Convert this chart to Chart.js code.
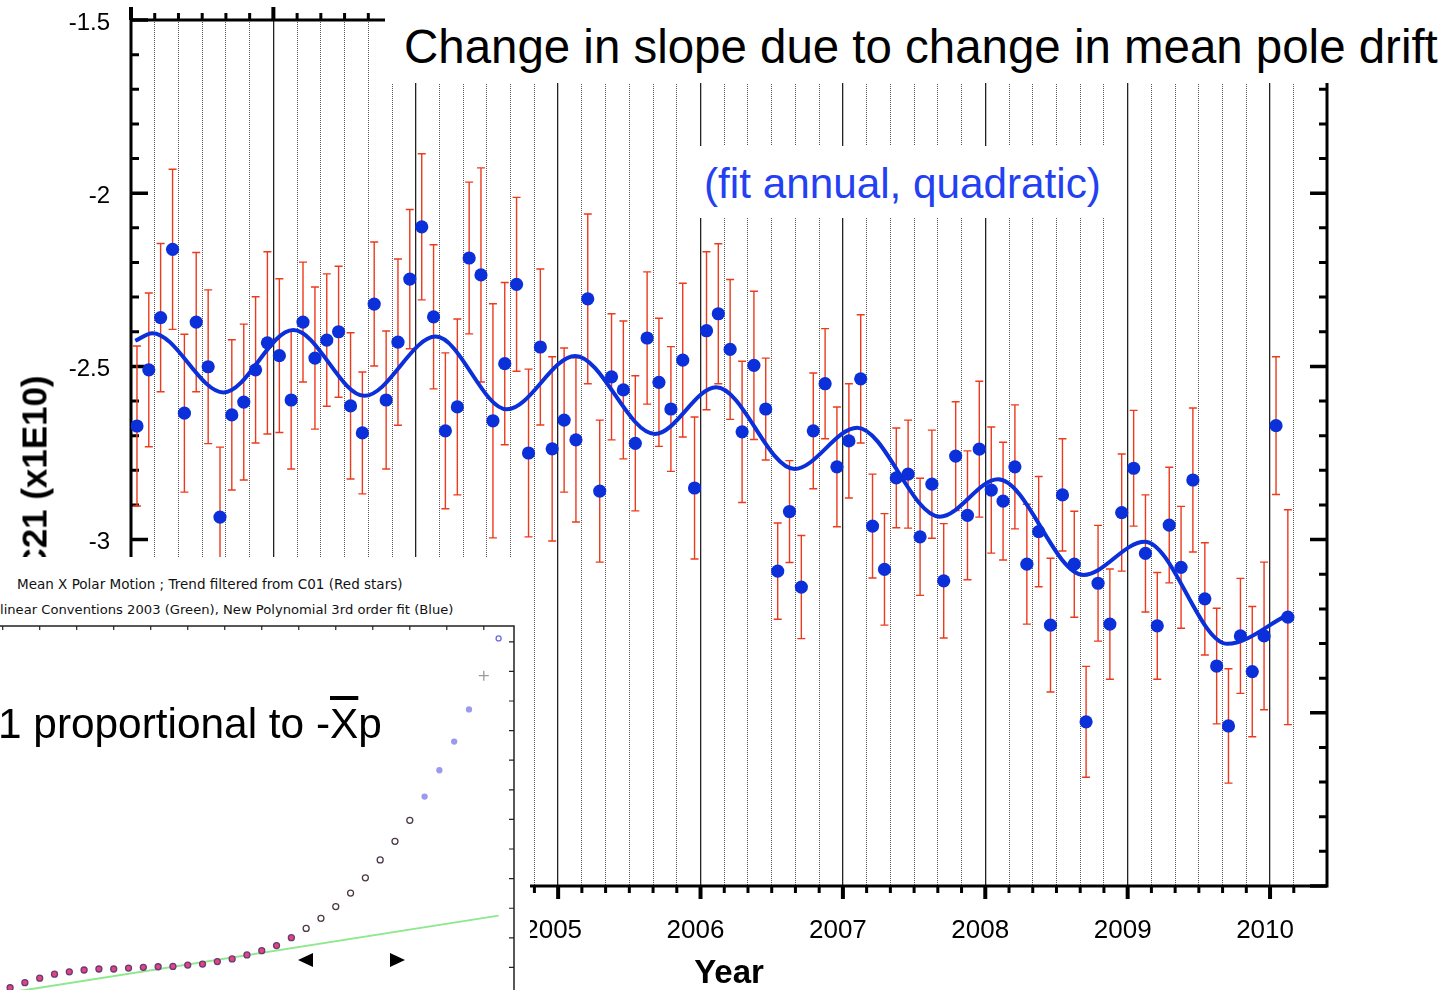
<!DOCTYPE html>
<html>
<head>
<meta charset="utf-8">
<script src="https://cdn.jsdelivr.net/npm/chart.js@4.4.1/dist/chart.umd.min.js"></script>
<style>
html,body{margin:0;padding:0;background:#fff;overflow:hidden;}
body{width:1450px;height:990px;position:relative;font-family:"Liberation Sans",Arial,Helvetica,sans-serif;}
#mainC{position:absolute;left:0;top:0;}
.wbox{position:absolute;background:#fff;}
.txt{position:absolute;white-space:nowrap;line-height:1;color:#000;left:0;top:0;}
.small{font-family:"DejaVu Sans",Verdana,sans-serif;color:#111;}
.ov{text-decoration:overline;text-decoration-thickness:4px;}
#inset{position:absolute;left:0;top:557px;width:530px;height:433px;background:#fff;overflow:hidden;}
#ic{position:absolute;left:-40px;top:60px;}
.tri{position:absolute;width:0;height:0;border-top:7.5px solid transparent;border-bottom:7.5px solid transparent;}
</style>
</head>
<body>
<canvas id="mainC" width="1450" height="990"></canvas>

<div class="wbox" style="left:385px;top:0;width:1065px;height:83px"></div>
<div id="title" class="txt">Change in slope due to change in mean pole drift</div>
<div class="wbox" style="left:688px;top:146px;width:424px;height:72px"></div>
<div id="fit" class="txt" style="color:#2340f2">(fit annual, quadratic)</div>
<div id="ylab" class="txt" style="font-weight:bold">C21 (x1E10)</div>

<div id="inset"><canvas id="ic" width="570" height="400"></canvas></div>
<div id="ins1" class="txt small">Mean X Polar Motion ; Trend filtered from C01 (Red stars)</div>
<div id="ins2" class="txt small">linear Conventions 2003 (Green), New Polynomial 3rd order fit (Blue)</div>
<div id="prop" class="txt">1 proportional to -<span class="ov">X</span>p</div>
<div class="tri" style="left:297.5px;top:952.5px;border-right:15px solid #000"></div>
<div class="tri" style="left:389.5px;top:952.5px;border-left:15px solid #000"></div>

<script>
// ---------------- main chart data ----------------
const years = [
 2002.042,2002.125,2002.208,2002.292,2002.375,2002.458,2002.542,2002.625,2002.708,2002.792,2002.875,2002.958,
 2003.042,2003.125,2003.208,2003.292,2003.375,2003.458,2003.542,2003.625,2003.708,2003.792,2003.875,2003.958,
 2004.042,2004.125,2004.208,2004.292,2004.375,2004.458,2004.542,2004.625,2004.708,2004.792,2004.875,2004.958,
 2005.042,2005.125,2005.208,2005.292,2005.375,2005.458,2005.542,2005.625,2005.708,2005.792,2005.875,2005.958,
 2006.042,2006.125,2006.208,2006.292,2006.375,2006.458,2006.542,2006.625,2006.708,2006.792,2006.875,2006.958,
 2007.042,2007.125,2007.208,2007.292,2007.375,2007.458,2007.542,2007.625,2007.708,2007.792,2007.875,2007.958,
 2008.042,2008.125,2008.208,2008.292,2008.375,2008.458,2008.542,2008.625,2008.708,2008.792,2008.875,2008.958,
 2009.042,2009.125,2009.208,2009.292,2009.375,2009.458,2009.542,2009.625,2009.708,2009.792,2009.875,2009.958,
 2010.042,2010.125
];
const c21 = [
 -2.672,-2.510,-2.359,-2.162,-2.635,-2.372,-2.501,-2.935,-2.640,-2.603,-2.510,-2.432,
 -2.469,-2.597,-2.372,-2.476,-2.424,-2.400,-2.614,-2.692,-2.320,-2.597,-2.430,-2.248,
 -2.097,-2.357,-2.686,-2.617,-2.187,-2.236,-2.657,-2.492,-2.263,-2.750,-2.444,-2.738,
 -2.655,-2.712,-2.305,-2.860,-2.530,-2.568,-2.722,-2.418,-2.546,-2.623,-2.482,-2.851,
 -2.397,-2.348,-2.451,-2.689,-2.497,-2.623,-3.091,-2.919,-3.137,-2.686,-2.550,-2.790,
 -2.715,-2.536,-2.961,-3.086,-2.822,-2.811,-2.992,-2.840,-3.119,-2.759,-2.930,-2.739,
 -2.857,-2.889,-2.790,-3.071,-2.977,-3.247,-2.871,-3.071,-3.526,-3.126,-3.244,-2.922,
 -2.794,-3.040,-3.249,-2.958,-3.080,-2.828,-3.171,-3.365,-3.538,-3.278,-3.381,-3.278,
 -2.671,-3.224
];
const c21Err = [
 0.231,0.222,0.214,0.231,0.228,0.201,0.222,0.202,0.217,0.225,0.211,0.263,
 0.222,0.199,0.173,0.205,0.191,0.189,0.211,0.176,0.179,0.199,0.240,0.201,
 0.211,0.208,0.225,0.254,0.219,0.309,0.338,0.234,0.251,0.242,0.225,0.266,
 0.208,0.237,0.245,0.205,0.182,0.199,0.195,0.191,0.185,0.180,0.222,0.205,
 0.228,0.202,0.202,0.204,0.214,0.147,0.139,0.147,0.149,0.167,0.159,0.173,
 0.165,0.185,0.150,0.161,0.144,0.156,0.169,0.156,0.165,0.157,0.186,0.196,
 0.182,0.170,0.179,0.173,0.159,0.193,0.162,0.153,0.160,0.167,0.159,0.169,
 0.167,0.169,0.154,0.167,0.176,0.208,0.162,0.167,0.165,0.166,0.188,0.213,
 0.199,0.310
];
// fitted curve (annual + quadratic), read at its turning points
const fitYears = [2002.03,2002.15,2002.65,2003.14,2003.64,2004.14,2004.64,2005.12,2005.68,
                  2006.11,2006.66,2007.10,2007.68,2008.09,2008.69,2009.12,2009.70,2010.12];
const fitC21   = [-2.426,-2.404,-2.575,-2.395,-2.585,-2.414,-2.624,-2.470,-2.695,
                  -2.560,-2.796,-2.677,-2.934,-2.826,-3.102,-3.006,-3.301,-3.218];
const xTickLabels = ['2005','2006','2007','2008','2009','2010'];
const yTickLabels = ['-1.5','-2','-2.5','-3'];

// ---------------- inset data ----------------
const insetYears = [1977,1978,1979,1980,1981,1982,1983,1984,1985,1986,1987,1988,1989,1990,1991,1992,1993,
                    1994,1995,1996,1997,1998,1999,2000,2001,2002,2003,2004,2005,2006,2007,2008,2009,2010];
const insetValues = [0.94,1.46,1.91,2.32,2.56,2.74,2.84,2.84,2.94,3.01,3.07,3.10,3.24,3.34,3.59,3.86,4.27,
                     4.70,5.22,6.02,6.95,7.98,9.17,10.54,12.08,13.89,15.78,17.91,20.31,22.98,25.89,29.15,32.57,36.34];
const greenYears = [1976.31, 2010.0];
const greenValues = [0.30, 8.25];
const insetXTicks = [1976.5,1979,1981.5,1984,1986.5,1989,1991.5,1994,1996.5,1999,2001.5,2004,2006.5,2009];
const insetYTicks = [3,6,9,12,15,18,21,24,27,30,33,36];

// ---------------- helpers ----------------
const FONT = '"Liberation Sans", Arial, Helvetica, sans-serif';
const BLUE = '#0b2fd8';
const isYear = v => Math.abs(v - Math.round(v)) < 1e-6;
const isMinor = v => Math.abs(v * 6 - Math.round(v * 6)) < 1e-6;

Chart.defaults.font.family = FONT;

const framePlugin = {
  id: 'frame',
  beforeDatasetsDraw(chart) {
    const {ctx, chartArea: a, scales: {x, y}} = chart;
    ctx.save();
    ctx.strokeStyle = '#000';
    ctx.lineCap = 'butt';
    ctx.lineWidth = 3;
    ctx.strokeRect(a.left, a.top, a.right - a.left, a.bottom - a.top);
    for (const t of y.ticks) {
      const p = y.getPixelForValue(t.value);
      const major = Math.abs(t.value * 2 - Math.round(t.value * 2)) < 1e-6;
      const len = major ? 17 : 8;
      ctx.lineWidth = major ? 3.5 : 3;
      ctx.beginPath();
      ctx.moveTo(a.left, p); ctx.lineTo(a.left + len, p);
      ctx.moveTo(a.right, p); ctx.lineTo(a.right - len, p);
      ctx.stroke();
    }
    for (const t of x.ticks) {
      if (!isMinor(t.value)) continue;
      const p = x.getPixelForValue(t.value);
      const major = isYear(t.value);
      const len = major ? 13 : 7;
      ctx.lineWidth = major ? 4 : 3;
      ctx.beginPath();
      ctx.moveTo(p, a.top); ctx.lineTo(p, a.top - len);
      ctx.moveTo(p, a.bottom); ctx.lineTo(p, a.bottom + len);
      ctx.stroke();
    }
    ctx.restore();
  }
};

const errPlugin = {
  id: 'errbars',
  beforeDatasetsDraw(chart) {
    const {ctx, scales: {x, y}} = chart;
    ctx.save();
    ctx.strokeStyle = 'rgb(236,58,28)';
    ctx.lineWidth = 1.4;
    for (let i = 0; i < years.length; i++) {
      const px = x.getPixelForValue(years[i]);
      const pt = y.getPixelForValue(c21[i] + c21Err[i]);
      const pb = y.getPixelForValue(c21[i] - c21Err[i]);
      ctx.beginPath();
      ctx.moveTo(px, pt); ctx.lineTo(px, pb);
      ctx.moveTo(px - 4, pt); ctx.lineTo(px + 4, pt);
      ctx.moveTo(px - 4, pb); ctx.lineTo(px + 4, pb);
      ctx.stroke();
    }
    ctx.restore();
  }
};

new Chart(document.getElementById('mainC'), {
  type: 'scatter',
  data: {
    datasets: [
      {
        type: 'line',
        data: fitYears.map((v, i) => ({x: v, y: fitC21[i]})),
        borderColor: BLUE, borderWidth: 4, pointRadius: 0, showLine: true,
        cubicInterpolationMode: 'monotone', fill: false, order: 2
      },
      {
        type: 'scatter',
        data: years.map((v, i) => ({x: v, y: c21[i]})),
        backgroundColor: BLUE, borderColor: BLUE, borderWidth: 0,
        pointRadius: 6.6, order: 1
      }
    ]
  },
  options: {
    responsive: false, devicePixelRatio: 1, animation: false,
    layout: {padding: {left: 0, top: 20, right: 123, bottom: 0}},
    plugins: {legend: {display: false}, tooltip: {enabled: false}},
    scales: {
      x: {
        type: 'linear', min: 2002, max: 2010.4,
        afterFit(s) { s.height = 104; s.paddingLeft = 0; s.paddingRight = 0; },
        ticks: {
          stepSize: 1 / 6, autoSkip: false, maxRotation: 0, minRotation: 0,
          padding: 29, labelOffset: -5, color: '#000',
          font: {family: FONT, size: 26},
          callback(v) {
            if (!isYear(v)) return '';
            const s = String(Math.round(v));
            return xTickLabels.includes(s) ? s : '';
          }
        },
        grid: {
          drawTicks: false,
          color(c) { if (!c.tick) return 'rgba(0,0,0,0)'; const v = c.tick.value; return isYear(v) ? '#222' : (isMinor(v) ? '#555' : 'rgba(0,0,0,0)'); },
          lineWidth(c) { return c.tick && isYear(c.tick.value) ? 1.3 : 1; }
        },
        border: {display: false, dash(c) { return c.tick && !isYear(c.tick.value) ? [1, 1] : []; }},
        title: {display: true, text: 'Year', color: '#000', font: {family: FONT, size: 33, weight: 'bold', lineHeight: 1}, padding: {top: 0, bottom: 0}}
      },
      y: {
        type: 'linear', min: -4, max: -1.5,
        afterFit(s) { s.width = 131; s.paddingTop = 0; s.paddingBottom = 0; },
        ticks: {
          stepSize: 0.1, autoSkip: false, padding: 21, labelOffset: 3, color: '#000',
          font: {family: FONT, size: 24},
          callback(v) { const s = String(+(+v).toFixed(2)); return yTickLabels.includes(s) ? s : ''; }
        },
        grid: {display: false, drawTicks: false},
        border: {display: false}
      }
    }
  },
  plugins: [framePlugin, errPlugin]
});

// ---------------- inset chart ----------------
const insetFrame = {
  id: 'insetFrame',
  afterDraw(chart) {
    const {ctx, chartArea: a, scales: {x, y}} = chart;
    ctx.save();
    ctx.strokeStyle = '#222';
    ctx.lineWidth = 1.5;
    ctx.beginPath();
    ctx.moveTo(a.left, a.top); ctx.lineTo(a.right, a.top); ctx.lineTo(a.right, a.bottom);
    ctx.stroke();
    ctx.lineWidth = 1.2;
    ctx.beginPath();
    for (const v of insetXTicks) { const p = x.getPixelForValue(v); ctx.moveTo(p, a.top); ctx.lineTo(p, a.top + 4); }
    for (const v of insetYTicks) { const p = y.getPixelForValue(v); ctx.moveTo(a.right, p); ctx.lineTo(a.right - 5, p); }
    ctx.stroke();
    ctx.restore();
  }
};
const ptFill = i => i < 20 ? '#e0457d' : (i < 28 ? 'rgba(255,255,255,0)' : (i < 32 ? '#9a9af0' : 'rgba(255,255,255,0)'));
const ptBorder = i => i < 20 ? '#6a3a78' : (i < 28 ? '#4a3a48' : (i < 32 ? '#9a9af0' : (i === 32 ? '#9a9a9a' : '#6a6ae0')));

new Chart(document.getElementById('ic'), {
  type: 'scatter',
  data: {
    datasets: [
      {
        type: 'line',
        data: greenYears.map((v, i) => ({x: v, y: greenValues[i]})),
        borderColor: '#8ee88e', borderWidth: 2, pointRadius: 0, showLine: true, fill: false, order: 2
      },
      {
        type: 'scatter',
        data: insetYears.map((v, i) => ({x: v, y: insetValues[i]})),
        pointRadius: c => c.dataIndex === 32 ? 5 : (c.dataIndex >= 28 ? 2.5 : 3),
        pointStyle: c => c.dataIndex === 32 ? 'cross' : 'circle',
        pointBackgroundColor: c => ptFill(c.dataIndex),
        pointBorderColor: c => ptBorder(c.dataIndex),
        borderWidth: 1.3, order: 1
      }
    ]
  },
  options: {
    responsive: false, devicePixelRatio: 1, animation: false,
    layout: {padding: {left: 19, right: 16, top: 9, bottom: 17}},
    plugins: {legend: {display: false}, tooltip: {enabled: false}},
    scales: {
      x: {type: 'linear', display: false, min: 1974.9, max: 2011.04},
      y: {type: 'linear', display: false, min: -0.3, max: 37.6}
    }
  },
  plugins: [insetFrame]
});

// ---------------- text placement ----------------
const ASC = 0.8465;
function placeText(id, left, baseline, width, fs) {
  const el = document.getElementById(id);
  el.style.fontSize = fs + 'px';
  const w = el.getBoundingClientRect().width;
  const f = fs * width / w;
  el.style.fontSize = f + 'px';
  el.style.left = left + 'px';
  el.style.top = (baseline - ASC * f) + 'px';
  return f;
}
placeText('title', 404, 63.3, 1034, 47);
placeText('fit', 704, 199, 397, 42);
placeText('ins1', 17, 589.7, 386, 12);
placeText('ins2', 0, 614, 454, 12);
placeText('prop', -2, 739.2, 384, 42);

(function () {
  const el = document.getElementById('ylab');
  el.style.fontSize = '35px';
  const w0 = el.getBoundingClientRect().width;
  const f = 35 * 198 / w0;
  el.style.fontSize = f + 'px';
  const W = el.getBoundingClientRect().width;
  const cx = 47 - 0.3465 * f, cy = 474.5;
  el.style.left = (cx - W / 2) + 'px';
  el.style.top = (cy - f / 2) + 'px';
  el.style.transform = 'rotate(-90deg)';
  el.style.transformOrigin = '50% 50%';
})();
</script>
</body>
</html>
